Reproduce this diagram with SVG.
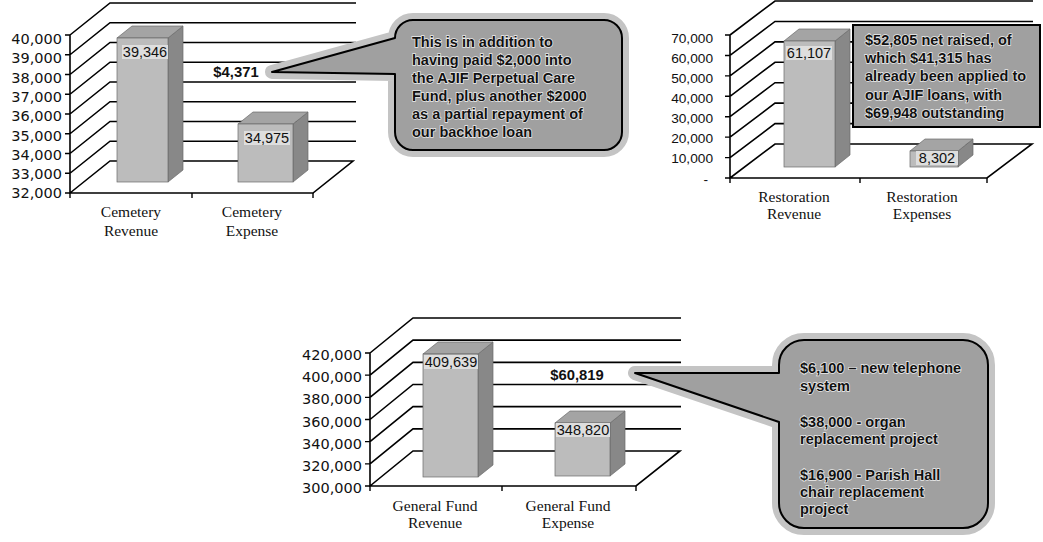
<svg xmlns="http://www.w3.org/2000/svg" width="1043" height="542" viewBox="0 0 1043 542">
<style>
  .ln{stroke:#000;stroke-width:1.6;fill:none}
  .tk{stroke:#000;stroke-width:1.4}
  .front{fill:#bcbcbc;stroke:#6a6a6a;stroke-width:0.7}
  .top{fill:#a4a4a4;stroke:#6a6a6a;stroke-width:0.7}
  .side{fill:#888888;stroke:#6a6a6a;stroke-width:0.7}
  .ylab{font-family:"DejaVu Sans",sans-serif;font-size:14.5px;fill:#111;text-anchor:end}
  .ylab2{font-family:"Liberation Sans",Arial,sans-serif;font-size:13.7px;fill:#111;text-anchor:end}
  .xlab{font-family:"Liberation Serif","Times New Roman",serif;font-size:15.5px;fill:#111;text-anchor:middle}
  .val{font-family:"Liberation Sans",Arial,sans-serif;font-size:14.5px;fill:#111;text-anchor:middle}
  .valbg{fill:#dedede}
  .diff{font-family:"Liberation Sans",Arial,sans-serif;font-size:14.8px;font-weight:bold;fill:#111;text-anchor:middle}
  .halo{fill:none;stroke:#c4c4c4;stroke-width:14;stroke-linejoin:round}
  .bubble{fill:#a0a0a0;stroke:#000;stroke-width:2;stroke-linejoin:round}
  .ct{font-family:"Liberation Sans",Arial,sans-serif;font-size:14.5px;font-weight:bold;fill:#111;stroke:#ececec;stroke-width:1.4;paint-order:stroke}
</style>
<rect width="1043" height="542" fill="#ffffff"/>

<!-- Chart 1: Cemetery -->
<g id="chart-cemetery">
  <g class="ln">
    <path d="M70,35 L110,3 H356 M70,54.75 L110,22.75 H356 M70,74.5 L110,42.5 H356 M70,94.25 L110,62.25 H356 M70,114 L110,82 H356 M70,133.75 L110,101.75 H356 M70,153.5 L110,121.5 H356 M70,173.25 L110,141.25 H356 M70,193 L110,161 H353 L313,193 H70 V35"/>
  </g>
  <g class="tk">
    <path d="M65,35H70M65,54.75H70M65,74.5H70M65,94.25H70M65,114H70M65,133.75H70M65,153.5H70M65,173.25H70M65,193H70M70,193V198M192,193V198M313,193V198"/>
  </g>
  <g>
    <text class="ylab" x="62" y="44">40,000</text>
    <text class="ylab" x="62" y="63">39,000</text>
    <text class="ylab" x="62" y="83">38,000</text>
    <text class="ylab" x="62" y="102">37,000</text>
    <text class="ylab" x="62" y="121">36,000</text>
    <text class="ylab" x="62" y="141">35,000</text>
    <text class="ylab" x="62" y="160">34,000</text>
    <text class="ylab" x="62" y="179">33,000</text>
    <text class="ylab" x="62" y="198">32,000</text>
  </g>
  <g id="bar-cemetery-revenue">
    <polygon class="side" points="168,38 183,26 183,170 168,182"/>
    <polygon class="top" points="117,38 168,38 183,26 132,26"/>
    <rect class="front" x="117" y="38" width="51" height="144"/>
    <rect class="valbg" x="122" y="45" width="46" height="14"/>
    <text class="val" x="145" y="57">39,346</text>
  </g>
  <g id="bar-cemetery-expense">
    <polygon class="side" points="293,124 308,112 308,170 293,182"/>
    <polygon class="top" points="238,124 293,124 308,112 253,112"/>
    <rect class="front" x="238" y="124" width="55" height="58"/>
    <rect class="valbg" x="244" y="131" width="46" height="14"/>
    <text class="val" x="267" y="143">34,975</text>
  </g>
  <text class="xlab" x="131" y="217">Cemetery</text>
  <text class="xlab" x="131" y="236">Revenue</text>
  <text class="xlab" x="252" y="217">Cemetery</text>
  <text class="xlab" x="252" y="236">Expense</text>
  <text class="diff" x="236" y="77">$4,371</text>
</g>

<g id="callout-cemetery">
  <path class="halo" d="M272,72 L395,38 A18,18 0 0 1 413,20 H604 A18,18 0 0 1 622,38 V132 A18,18 0 0 1 604,150 H413 A18,18 0 0 1 395,132 V74 Z"/>
  <path class="bubble" d="M272,72 L395,38 A18,18 0 0 1 413,20 H604 A18,18 0 0 1 622,38 V132 A18,18 0 0 1 604,150 H413 A18,18 0 0 1 395,132 V74 Z"/>
  <text class="ct" x="412" y="47">This is in addition to</text>
  <text class="ct" x="412" y="65">having paid $2,000 into</text>
  <text class="ct" x="412" y="83">the AJIF Perpetual Care</text>
  <text class="ct" x="412" y="101">Fund, plus another $2000</text>
  <text class="ct" x="412" y="119">as a partial repayment of</text>
  <text class="ct" x="412" y="137">our backhoe loan</text>
</g>

<!-- Chart 2: Restoration -->
<g id="chart-restoration">
  <g class="ln">
    <path d="M730,35 L775,1 H1033 M730,55.43 L775,21.43 H1033 M730,75.86 L775,41.86 H1033 M730,96.29 L775,62.29 H1033 M730,116.72 L775,82.72 H1033 M730,137.15 L775,103.15 H1033 M730,157.58 L775,123.58 H1033 M730,178 L775,144 H1032 L987,178 H730 V35"/>
  </g>
  <g class="tk">
    <path d="M725,35H730M725,55.43H730M725,75.86H730M725,96.29H730M725,116.72H730M725,137.15H730M725,157.58H730M725,178H730M730,178V183M860,178V183M987,178V183"/>
  </g>
  <g>
    <text class="ylab2" x="713" y="43">70,000</text>
    <text class="ylab2" x="713" y="63">60,000</text>
    <text class="ylab2" x="713" y="83">50,000</text>
    <text class="ylab2" x="713" y="103">40,000</text>
    <text class="ylab2" x="713" y="123">30,000</text>
    <text class="ylab2" x="713" y="143">20,000</text>
    <text class="ylab2" x="713" y="163">10,000</text>
    <text class="ylab2" x="708" y="184">-</text>
  </g>
  <g id="bar-restoration-revenue">
    <polygon class="side" points="835,41 850,29 850,155 835,167"/>
    <polygon class="top" points="784,41 835,41 850,29 799,29"/>
    <rect class="front" x="784" y="41" width="51" height="126"/>
    <rect class="valbg" x="786" y="46" width="46" height="14"/>
    <text class="val" x="809" y="58">61,107</text>
  </g>
  <g id="bar-restoration-expense">
    <polygon class="side" points="958,151 973,139 973,155 958,167"/>
    <polygon class="top" points="910,151 958,151 973,139 925,139"/>
    <rect class="front" x="910" y="151" width="48" height="16"/>
    <rect class="valbg" x="916" y="151" width="42" height="14"/>
    <text class="val" x="937" y="163">8,302</text>
  </g>
  <text class="xlab" x="794" y="202">Restoration</text>
  <text class="xlab" x="794" y="219">Revenue</text>
  <text class="xlab" x="922" y="202">Restoration</text>
  <text class="xlab" x="922" y="219">Expenses</text>
</g>

<g id="callout-restoration">
  <rect x="853" y="25" width="187" height="102" fill="#a0a0a0" stroke="#000" stroke-width="2"/>
  <text class="ct" x="865" y="45">$52,805 net raised, of</text>
  <text class="ct" x="865" y="63">which $41,315 has</text>
  <text class="ct" x="865" y="81">already been applied to</text>
  <text class="ct" x="865" y="100">our AJIF loans, with</text>
  <text class="ct" x="865" y="118">$69,948 outstanding</text>
</g>

<!-- Chart 3: General Fund -->
<g id="chart-general">
  <g class="ln">
    <path d="M370,353 L413,318 H681 M370,375.17 L413,340.17 H681 M370,397.33 L413,362.33 H681 M370,419.5 L413,384.5 H681 M370,441.67 L413,406.67 H681 M370,463.83 L413,428.83 H681 M370,486 L413,451 H680 L636,486 H370 V353"/>
  </g>
  <g class="tk">
    <path d="M365,353H370M365,375.17H370M365,397.33H370M365,419.5H370M365,441.67H370M365,463.83H370M365,486H370M370,486V491M502,486V491M636,486V491"/>
  </g>
  <g>
    <text class="ylab" x="362" y="360">420,000</text>
    <text class="ylab" x="362" y="382">400,000</text>
    <text class="ylab" x="362" y="404">380,000</text>
    <text class="ylab" x="362" y="427">360,000</text>
    <text class="ylab" x="362" y="449">340,000</text>
    <text class="ylab" x="362" y="471">320,000</text>
    <text class="ylab" x="362" y="493">300,000</text>
  </g>
  <g id="bar-general-revenue">
    <polygon class="side" points="478,354 493,342 493,465 478,477"/>
    <polygon class="top" points="423,354 478,354 493,342 438,342"/>
    <rect class="front" x="423" y="354" width="55" height="123"/>
    <rect class="valbg" x="424" y="355" width="54" height="14"/>
    <text class="val" x="451" y="367">409,639</text>
  </g>
  <g id="bar-general-expense">
    <polygon class="side" points="610,423 625,411 625,464 610,476"/>
    <polygon class="top" points="555,423 610,423 625,411 570,411"/>
    <rect class="front" x="555" y="423" width="55" height="53"/>
    <rect class="valbg" x="556" y="423" width="54" height="14"/>
    <text class="val" x="583" y="435">348,820</text>
  </g>
  <text class="xlab" x="435" y="511">General Fund</text>
  <text class="xlab" x="435" y="528">Revenue</text>
  <text class="xlab" x="568" y="511">General Fund</text>
  <text class="xlab" x="568" y="528">Expense</text>
  <text class="diff" x="577" y="380">$60,819</text>
</g>

<g id="callout-general">
  <path class="halo" d="M635,373 H779 V365 A25,25 0 0 1 804,340 H963 A25,25 0 0 1 988,365 V503 A25,25 0 0 1 963,528 H804 A25,25 0 0 1 779,503 V422 Z"/>
  <path class="bubble" d="M635,373 H779 V365 A25,25 0 0 1 804,340 H963 A25,25 0 0 1 988,365 V503 A25,25 0 0 1 963,528 H804 A25,25 0 0 1 779,503 V422 Z"/>
  <text class="ct" x="800" y="373">$6,100 – new telephone</text>
  <text class="ct" x="800" y="391">system</text>
  <text class="ct" x="800" y="427">$38,000 - organ</text>
  <text class="ct" x="800" y="444">replacement project</text>
  <text class="ct" x="800" y="480">$16,900 - Parish Hall</text>
  <text class="ct" x="800" y="497">chair replacement</text>
  <text class="ct" x="800" y="514">project</text>
</g>
</svg>
